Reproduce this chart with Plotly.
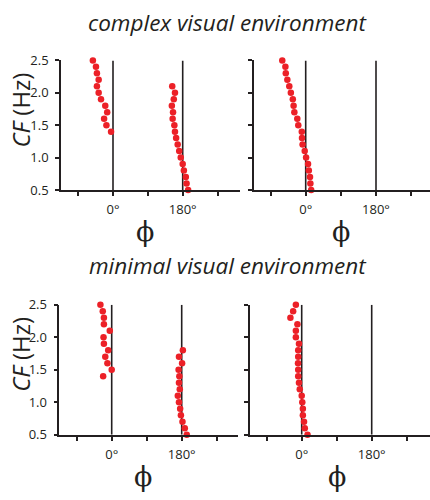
import plotly.graph_objects as go

W, H = 430, 500

# ---------------- data ----------------
# complex visual environment, left panel (two clusters)
cf_tl_a = [2.5, 2.4, 2.3, 2.2, 2.1, 2.0, 1.9, 1.8, 1.7, 1.6, 1.5, 1.4]
phi_tl_a = [-52, -44, -41.5, -37, -41.5, -37, -31, -20, -15, -23, -17, -5]
cf_tl_b = [2.1, 2.0, 1.9, 1.8, 1.7, 1.6, 1.5, 1.4, 1.3, 1.2, 1.1, 1.0, 0.9, 0.8, 0.7, 0.6, 0.5]
phi_tl_b = [153, 160, 157, 152, 155, 154, 158.5, 160, 163, 167, 171, 175, 180, 183, 188, 190, 194]
# complex visual environment, right panel
cf_tr = [2.5, 2.4, 2.3, 2.2, 2.1, 2.0, 1.9, 1.8, 1.7, 1.6, 1.5, 1.4, 1.3, 1.2, 1.1, 1.0, 0.9, 0.8, 0.7, 0.6, 0.5]
phi_tr = [-60, -52, -51, -47, -42, -38, -33, -31, -29, -21.5, -19, -10, -9.5, -8, -2.5, 1, 6, 8, 11, 12, 14]
# minimal visual environment, left panel (two clusters)
cf_bl_a = [2.5, 2.4, 2.3, 2.2, 2.1, 2.0, 1.9, 1.8, 1.7, 1.6, 1.5, 1.4]
phi_bl_a = [-29, -23, -20, -20, -5, -21, -20, -9, -16.5, -11, 0, -22]
cf_bl_b = [1.8, 1.7, 1.6, 1.5, 1.4, 1.3, 1.2, 1.1, 1.0, 0.9, 0.8, 0.7, 0.6, 0.5]
phi_bl_b = [183, 173, 181, 172, 174, 173, 175, 170, 173, 176, 178, 182, 188, 193]
# minimal visual environment, right panel
cf_br = [2.5, 2.4, 2.3, 2.2, 2.1, 2.0, 1.9, 1.8, 1.7, 1.6, 1.5, 1.4, 1.3, 1.2, 1.1, 1.0, 0.9, 0.8, 0.7, 0.6, 0.5]
phi_br = [-15, -22, -29, -11, -15, -15, -7, -9, -9, -9.5, -9, -9, -7, -5, 0, 1.5, 3, 3, 6, 8, 15]

x_tickvals = [-90, 0, 90, 180, 270]
x_ticktext = ["", "0°", "", "180°", ""]
y_tickvals = [0.5, 1.0, 1.5, 2.0, 2.5]
y_ticktext = ["0.5", "1.0", "1.5", "2.0", "2.5"]
ref_lines = [0, 180]
panel_titles = ["complex visual environment", "minimal visual environment"]
y_title = "<i>CF</i> (Hz)"
x_title = "ϕ"

# ---------------- layout geometry (pixels) ----------------
# left edge, pixel of 0°, pixel of 180°, right edge, top (2.5), bottom (0.5)
panels = [
    dict(L=61, p0=113, p180=182.7, R=240, T=53.3, B=187.7, lbl=True),
    dict(L=254, p0=305.7, p180=376, R=430, T=53.3, B=187.7, lbl=False),
    dict(L=59.3, p0=111.7, p180=181.7, R=238, T=306.7, B=441.7, lbl=True),
    dict(L=249.7, p0=301.7, p180=371.7, R=430, T=306.7, B=441.7, lbl=False),
]
series = [
    [(phi_tl_a, cf_tl_a), (phi_tl_b, cf_tl_b)],
    [(phi_tr, cf_tr)],
    [(phi_bl_a, cf_bl_a), (phi_bl_b, cf_bl_b)],
    [(phi_br, cf_br)],
]

RED = "#ec2027"
INK = "#231f20"
FONT = "Open Sans"

fig = go.Figure()
layout = dict(
    width=W, height=H, margin=dict(l=0, r=0, t=0, b=0),
    paper_bgcolor="white", plot_bgcolor="white", showlegend=False,
    font=dict(family=FONT, color=INK),
)
shapes = []
annotations = []

for i, (p, ser) in enumerate(zip(panels, series)):
    k = "" if i == 0 else str(i + 1)
    s = (p["p180"] - p["p0"]) / 180.0
    xr = [(p["L"] - p["p0"]) / s, (p["R"] - p["p0"]) / s]
    layout["xaxis" + k] = dict(
        domain=[p["L"] / W, min(p["R"] / W, 1.0)], range=xr, anchor="y" + k,
        showline=True, linecolor=INK, linewidth=1.5,
        ticks="outside", ticklen=4, tickwidth=1.5, tickcolor=INK,
        tickvals=x_tickvals, ticktext=x_ticktext,
        tickfont=dict(family=FONT, size=13, color=INK),
        ticklabelstandoff=3,
        showgrid=False, zeroline=False, fixedrange=True,
    )
    layout["yaxis" + k] = dict(
        domain=[1 - p["B"] / H, 1 - p["T"] / H], range=[0.5, 2.5], anchor="x" + k,
        showline=True, linecolor=INK, linewidth=1.5,
        ticks="outside", ticklen=4, tickwidth=1.5, tickcolor=INK,
        tickvals=y_tickvals, ticktext=y_ticktext, showticklabels=p["lbl"],
        tickfont=dict(family=FONT, size=13, color=INK),
        ticklabelstandoff=4,
        showgrid=False, zeroline=False, fixedrange=True,
    )
    for xv in ref_lines:
        shapes.append(dict(type="line", xref="x" + k, yref="y" + k,
                           x0=xv, x1=xv, y0=0.5, y1=2.5, layer="below",
                           line=dict(color=INK, width=1.6)))
    for xs, ys in ser:
        fig.add_trace(go.Scatter(
            x=xs, y=ys, mode="markers", xaxis="x" + k, yaxis="y" + k,
            cliponaxis=False,
            marker=dict(color=RED, size=6.5, line=dict(width=0)),
        ))
    # phi label below the panel
    annotations.append(dict(
        text=x_title, x=(p["L"] + 84) / W if p["lbl"] else (p["L"] + 87) / W,
        y=1 - (p["B"] + 43) / H, xref="paper", yref="paper",
        xanchor="center", yanchor="middle", showarrow=False,
        font=dict(family="DejaVu Serif", size=27, color=INK),
    ))
    if p["lbl"]:
        annotations.append(dict(
            text=y_title, x=21 / W, y=1 - (p["T"] + 52) / H,
            xref="paper", yref="paper", xanchor="center", yanchor="middle",
            textangle=-90, showarrow=False,
            font=dict(family=FONT, size=24, color=INK),
        ))

for t, ty in zip(panel_titles, [14, 266]):
    annotations.append(dict(
        text="<i>" + t + "</i>", x=228 / W, y=1 - ty / H, xref="paper", yref="paper",
        xanchor="center", yanchor="middle", showarrow=False,
        font=dict(family=FONT, size=22.5, color=INK),
    ))

layout["shapes"] = shapes
layout["annotations"] = annotations
fig.update_layout(**layout)
fig.write_html("out.html", config=dict(displayModeBar=False),
               post_script="document.body.style.margin='0';document.body.style.padding='0';")
